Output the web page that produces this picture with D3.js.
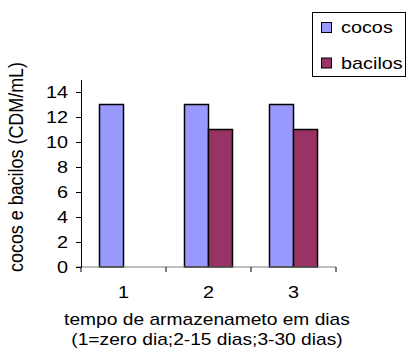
<!DOCTYPE html>
<html>
<head>
<meta charset="utf-8">
<script src="https://cdn.jsdelivr.net/npm/d3@7"></script>
<style>
  html, body { margin: 0; padding: 0; background: #fff; }
  svg { display: block; font-family: "Liberation Sans", Arial, sans-serif; }
</style>
</head>
<body>
<svg id="chart" width="406" height="353"></svg>
<script>
// Chart data
const categories = ["1", "2", "3"];
const seriesNames = ["cocos", "bacilos"];
const cocos = [13, 13, 13];
const bacilos = [0, 11, 11];
const yTicks = [0, 2, 4, 6, 8, 10, 12, 14];
const yMax = 15;
const xTitleLines = ["tempo de armazenameto em dias", "(1=zero dia;2-15 dias;3-30 dias)"];
const yTitle = "cocos e bacilos (CDM/mL)";

const colors = { cocos: "#9999FF", bacilos: "#993366" };
const sx = 1.24;          // horizontal glyph stretch
const sxTitle = 1.2;      // stretch for the long axis title
const fontSize = 16;

const svg = d3.select("#chart");

const plot = { left: 81, right: 336, top: 79.5, bottom: 267 };

const x0 = d3.scaleBand().domain(categories).range([plot.left, plot.right]).padding(0);
const x1 = d3.scaleBand().domain(seriesNames).range([18.5, x0.bandwidth() - 18.5]).padding(0);
const y = d3.scaleLinear().domain([0, yMax]).range([plot.bottom, plot.top]);

const rows = categories.map((c, i) => ({
  cat: c,
  values: [{ key: "cocos", v: cocos[i] }, { key: "bacilos", v: bacilos[i] }]
}));

// helper: stretched text anchored at (x, y)
function stretchedText(parent, x, yy, str, anchor, k) {
  return parent.append("text")
    .attr("transform", `translate(${x},${yy}) scale(${k || sx},1)`)
    .attr("text-anchor", anchor || "start")
    .attr("font-size", fontSize)
    .attr("fill", "#000")
    .text(str);
}

// Bars
const groups = svg.append("g").selectAll("g")
  .data(rows).join("g")
  .attr("transform", d => `translate(${x0(d.cat)},0)`);

groups.selectAll("rect")
  .data(d => d.values.filter(v => v.v > 0))
  .join("rect")
  .attr("x", d => x1(d.key))
  .attr("width", x1.bandwidth())
  .attr("y", d => y(d.v))
  .attr("height", d => y(0) - y(d.v))
  .attr("fill", d => colors[d.key])
  .attr("stroke", "#000")
  .attr("stroke-width", 1.5);

// X axis baseline (gray) and category boundary ticks
svg.append("line")
  .attr("x1", plot.left - 5).attr("x2", plot.right)
  .attr("y1", y(0)).attr("y2", y(0))
  .attr("stroke", "#808080").attr("stroke-width", 1.2);

const bounds = categories.map(c => x0(c)).concat([x0(categories[categories.length - 1]) + x0.bandwidth()]);
svg.append("g").selectAll("line")
  .data(bounds).join("line")
  .attr("x1", d => d).attr("x2", d => d)
  .attr("y1", y(0)).attr("y2", y(0) + 5)
  .attr("stroke", "#000").attr("stroke-width", 1);

// X category labels
const xLab = svg.append("g");
categories.forEach(c => {
  stretchedText(xLab, x0(c) + x0.bandwidth() / 2, 298, c, "middle");
});

// Y axis
const yAxis = d3.axisLeft(y).tickValues(yTicks).tickSize(5).tickSizeOuter(0).tickPadding(0);
const yg = svg.append("g").attr("transform", `translate(${plot.left},0)`).call(yAxis);
yg.select(".domain").attr("stroke", "#000").attr("stroke-width", 1);
yg.selectAll(".tick line").attr("stroke", "#000");
yg.selectAll(".tick text")
  .attr("font-size", fontSize)
  .attr("font-family", "Liberation Sans, Arial, sans-serif")
  .attr("fill", "#000")
  .attr("x", null).attr("dy", null)
  .attr("y", 5.5)
  .attr("transform", `translate(-13,0) scale(${sx},1)`)
  .attr("text-anchor", "end");

// X axis title
const cx = (plot.left + plot.right) / 2 - 1.5;
stretchedText(svg, cx, 325, xTitleLines[0], "middle", sxTitle);
stretchedText(svg, cx, 345, xTitleLines[1], "middle", sxTitle);

// Y axis title
svg.append("text")
  .attr("transform", `translate(23,167) rotate(-90) scale(1,${sx})`)
  .attr("text-anchor", "middle")
  .attr("font-size", fontSize)
  .attr("textLength", 210)
  .attr("lengthAdjust", "spacingAndGlyphs")
  .attr("fill", "#000")
  .text(yTitle);

// Legend
const legend = svg.append("g");
legend.append("rect")
  .attr("x", 312.5).attr("y", 12.5).attr("width", 93).attr("height", 64)
  .attr("fill", "#fff").attr("stroke", "#000").attr("stroke-width", 1);
seriesNames.forEach((s, i) => {
  const ly = 22.5 + i * 35.5;
  legend.append("rect")
    .attr("x", 321.5).attr("y", ly).attr("width", 10).attr("height", 10)
    .attr("fill", colors[s]).attr("stroke", "#000").attr("stroke-width", 1);
  stretchedText(legend, 341, ly + 10.5, s, "start");
});
</script>
</body>
</html>
